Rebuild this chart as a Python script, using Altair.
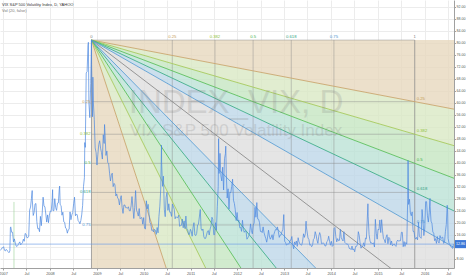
import altair as alt
import pandas as pd

TITLE = "VIX S&P 500 Volatility Index, D, YAHOO"
SUBTITLE = "Vol (20, false)"
WATERMARK1 = "INDEX_VIX, D"
WATERMARK2 = "VIX S&P 500 Volatility Index"

# ---- weekly closes (Fridays) ----
vix_2006 = [10.7, 11.0, 11.5, 11.6]  # from 2006-12-08
vix_2007 = [12.0, 10.8, 10.6, 11.1,
            10.7, 10.4, 10.0, 10.6,
            18.6, 16.8, 16.8, 13.6, 14.6,
            13.2, 12.2, 12.1, 12.5,
            13.1, 13.6, 12.6, 13.0,
            13.3, 14.5, 13.8, 16.4, 16.2,
            15.0, 15.0, 15.5, 24.2,
            25.2, 28.0, 27.5, 22.4, 23.4,
            26.2, 26.4, 20.4, 18.0,
            18.1, 17.0, 22.1, 19.0,
            23.2, 28.5, 25.5, 25.3, 22.9,
            20.2, 22.6, 20.0, 22.5]
vix_2008 = [23.9, 23.7, 27.2, 24.0,
            24.0, 28.0, 25.0, 24.1, 26.5,
            26.6, 31.2, 26.0, 25.7,
            22.5, 23.5, 20.3, 20.1,
            18.2, 18.0, 16.5, 17.6, 17.8,
            23.6, 21.0, 22.6, 23.4,
            26.3, 28.5, 22.3, 22.9,
            22.6, 20.7, 20.3, 19.6, 20.7,
            22.6, 25.7, 32.1, 35.0,
            45.1, 69.9, 70.3, 79.1, 59.9,
            55.0, 66.3, 72.7, 55.3,
            59.9, 54.3, 44.9, 43.4]
vix_2009 = [39.2, 42.8, 46.1, 47.3, 44.8,
            43.4, 41.2, 49.3, 46.4,
            49.3, 42.4, 43.9, 40.0,
            39.7, 36.5, 33.9, 35.8,
            36.5, 32.0, 33.1, 32.6, 28.9,
            29.6, 28.2, 27.9, 25.9,
            27.9, 29.0, 25.0, 23.1, 25.9,
            25.9, 25.0, 25.0, 24.8,
            25.3, 24.0, 23.9, 25.6,
            28.7, 25.0, 21.4, 25.0, 30.7,
            24.2, 23.4, 22.2, 24.7,
            21.3, 21.6, 21.7, 19.5]
vix_2010 = [21.7, 18.1, 17.9, 27.3, 24.6,
            26.1, 22.7, 20.0, 19.5,
            17.4, 17.6, 16.9, 17.8,
            17.5, 16.1, 18.4, 16.6, 22.1,
            25.5, 31.2, 40.1, 32.1,
            35.5, 24.3, 22.0, 28.5,
            30.1, 24.1, 26.3, 23.5, 23.5,
            22.1, 26.2, 25.5, 24.5,
            21.3, 22.0, 21.7, 21.7,
            22.5, 18.8, 19.0, 19.1, 21.2,
            18.3, 20.6, 18.0, 22.2,
            18.0, 17.6, 16.1, 16.1, 17.8]
vix_2011 = [17.1, 15.5, 18.5, 20.0,
            15.9, 15.7, 16.4, 19.2,
            19.5, 21.9, 24.4, 17.9,
            17.4, 17.9, 15.3, 14.7, 14.8,
            15.9, 17.1, 17.4, 15.9,
            17.9, 18.9, 21.8, 21.1,
            16.0, 16.0, 20.0, 17.5, 25.3,
            32.0, 36.4, 43.1, 35.6,
            33.9, 38.5, 30.9, 41.3, 43.0,
            36.3, 28.2, 31.3, 24.5,
            30.2, 30.0, 32.0, 34.5,
            27.5, 26.4, 24.3, 20.7, 23.4]
vix_2012 = [20.6, 20.9, 18.3, 18.5,
            17.1, 20.8, 17.8, 16.8,
            17.3, 17.1, 14.5, 15.0, 15.5,
            16.7, 19.6, 17.4, 16.3,
            19.2, 19.9, 25.1, 21.8,
            26.7, 21.2, 21.1, 20.0, 17.1,
            17.1, 16.7, 18.6, 16.7,
            15.6, 14.7, 13.5, 15.2, 17.5,
            15.6, 14.5, 15.1, 16.0,
            14.3, 16.1, 17.1, 17.8,
            17.6, 18.6, 16.9, 15.1, 15.9,
            15.9, 17.0, 17.8, 22.7]
vix_2013 = [13.8, 13.4, 12.5, 12.9,
            12.9, 13.0, 14.1, 14.2,
            15.4, 12.6, 11.3, 13.6, 12.7,
            13.9, 12.1, 15.0, 13.6,
            12.9, 12.6, 12.5, 13.8, 16.3,
            15.1, 16.3, 18.9, 16.9,
            14.9, 14.4, 12.5, 12.7,
            12.0, 12.4, 14.4, 14.8, 17.0,
            15.9, 14.2, 13.1, 15.5,
            16.7, 15.7, 13.0, 13.1,
            13.3, 12.9, 12.2, 12.3, 13.7,
            14.0, 15.5, 13.8, 12.5]
vix_2014 = [13.8, 12.1, 12.4, 18.1, 18.4,
            15.3, 13.6, 14.7, 14.0,
            14.1, 17.8, 15.0, 14.4,
            13.9, 17.0, 13.4, 13.1,
            12.9, 12.9, 12.4, 11.4, 11.4,
            11.0, 12.2, 10.9, 11.3,
            10.3, 12.1, 12.1, 12.7,
            17.0, 15.8, 13.2, 11.5, 12.0,
            12.1, 13.3, 12.1, 14.9,
            14.6, 21.2, 22.0, 16.1, 14.0,
            13.1, 13.3, 12.9, 13.3,
            11.9, 21.1, 16.5, 14.5]
vix_2015 = [17.8, 17.6, 20.9, 16.7, 21.0,
            17.3, 14.7, 14.3, 13.3,
            15.2, 16.0, 13.0, 15.1,
            14.7, 12.6, 13.9, 12.3,
            12.7, 12.9, 12.4, 12.1, 13.8,
            14.2, 13.8, 14.0, 14.0,
            16.8, 16.8, 12.0, 13.7, 12.1,
            13.4, 12.8, 28.0, 26.1,
            27.8, 23.2, 22.3, 23.6,
            17.1, 17.1, 15.1, 14.5, 15.1,
            14.3, 20.1, 15.5, 15.1,
            14.8, 24.4, 20.7, 15.7]
vix_2016 = [18.2, 27.0, 27.0, 22.3, 20.2,
            23.4, 25.4, 20.5, 19.8,
            16.9, 16.5, 14.0, 14.7,
            13.1, 15.4, 13.6, 13.2, 15.7,
            14.7, 15.0, 15.2, 13.1,
            13.5, 17.0, 19.4, 25.8,
            14.8, 13.2, 12.7, 12.0, 11.9,
            11.4, 12.86]
# daily spikes
spike_dates = ["2007-02-27", "2007-08-16", "2008-01-22", "2008-03-17", "2008-09-29",
               "2008-10-24", "2008-10-27", "2008-11-20", "2008-12-01", "2009-03-02",
               "2010-02-04", "2010-05-20", "2011-08-08", "2011-10-03", "2011-11-25",
               "2012-06-01", "2013-06-20", "2014-10-15", "2015-08-24", "2016-02-11",
               "2016-06-27"]
spike_values = [18.3, 30.7, 31.0, 32.2, 46.7,
                79.1, 80.1, 80.86, 68.5, 52.7,
                26.1, 45.8, 48.0, 45.5, 34.5,
                26.7, 20.5, 26.3, 40.7, 28.1,
                23.9]
last_price = 12.86

# volume pane remnants (Vol 20)
vol_date, vol_top = "2007-03-27", 26.9

# ---- Fib speed resistance fan anchors ----
fan_t0, fan_p0 = "2008-11-20", 80.86
fan_t1, fan_p1 = "2015-10-15", -1.3
fan_levels = [0.25, 0.382, 0.5, 0.618, 0.75, 1.0]
fan_names = ["0.25", "0.382", "0.5", "0.618", "0.75", "1"]
fan_line_colors = ["#c9a66e", "#a6c95c", "#5cbf5c", "#3fae8a", "#5d9fd4", "#8c8c8c"]
fan_text_colors = ["#c59c58", "#8fbf3a", "#44b04a", "#2f9f83", "#4a90cf", "#808080"]
fan_fill_colors = ["#e7d8be", "#dae8c4", "#c5e6c2", "#bbe2d6", "#bed7e8", "#dfdfdf"]

x_start, x_end = "2006-12-08", "2016-08-16"
y_min, y_max = 4.9, 94.2
y_ticks = list(range(8, 96, 4))
x_tick_dates = [f"{y}-{m}-01" for y in range(2007, 2017) for m in ("01", "07")]


def ms(d):
    return int(pd.Timestamp(d).value // 10**6)


# ---- build tables ----
year_lists = {2006: vix_2006, 2007: vix_2007, 2008: vix_2008, 2009: vix_2009, 2010: vix_2010,
              2011: vix_2011, 2012: vix_2012, 2013: vix_2013, 2014: vix_2014, 2015: vix_2015,
              2016: vix_2016}
rows = []
for yr, vals in year_lists.items():
    start = "2006-12-08" if yr == 2006 else f"{yr}-01-01"
    end = "2016-08-12" if yr == 2016 else f"{yr}-12-31"
    dates = pd.date_range(start, end, freq="W-FRI")
    for d, v in zip(dates, vals):
        rows.append({"t": ms(d), "v": v})
for d, v in zip(spike_dates, spike_values):
    rows.append({"t": ms(d), "v": v})
vix = pd.DataFrame(rows).sort_values("t").reset_index(drop=True)

T0, T1 = ms(fan_t0), ms(fan_t1)
DT = T1 - T0
DP = fan_p1 - fan_p0
XS, XE = ms(x_start), ms(x_end)


def price_ray(L):
    return lambda t: fan_p0 + (t - T0) / DT * L * DP


def time_ray(L):
    return lambda t: fan_p0 + (t - T0) / (L * DT) * DP


top = lambda t: fan_p0
bottom = lambda t: -3000.0
P = [price_ray(L) for L in fan_levels[:5]]
TR = [time_ray(L) for L in fan_levels[:5]]
regions = [
    (top, P[0], fan_fill_colors[0]),
    (P[0], P[1], fan_fill_colors[1]),
    (P[1], P[2], fan_fill_colors[2]),
    (P[2], P[3], fan_fill_colors[3]),
    (P[3], P[4], fan_fill_colors[4]),
    (P[4], TR[4], fan_fill_colors[5]),
    (TR[4], TR[3], fan_fill_colors[4]),
    (TR[3], TR[2], fan_fill_colors[3]),
    (TR[2], TR[1], fan_fill_colors[2]),
    (TR[1], TR[0], fan_fill_colors[1]),
    (TR[0], bottom, fan_fill_colors[0]),
]
fill_rows = []
for i, (u, lo, c) in enumerate(regions):
    for t in (T0, XE):
        fill_rows.append({"r": f"r{i:02d}", "t": t, "v": u(t), "v2": lo(t), "c": c})
fills_df = pd.DataFrame(fill_rows)

ray_rows = []
for L, col in zip(fan_levels, fan_line_colors):
    f = price_ray(L)
    for t in (T0, XE):
        ray_rows.append({"id": f"p{L}", "t": t, "v": f(t), "c": col})
for L, col in zip(fan_levels[:5], fan_line_colors[:5]):
    f = time_ray(L)
    for t in (T0, XE):
        ray_rows.append({"id": f"t{L}", "t": t, "v": f(t), "c": col})
rays_df = pd.DataFrame(ray_rows)

all_levels = [0.0] + fan_levels
vr_df = pd.DataFrame([{"t": T0 + L * DT, "v": fan_p0, "v2": fan_p1,
                       "o": 0.75 if L in (0.0, 1.0) else 0.45} for L in all_levels])
hr_df = pd.DataFrame([{"t": T0, "t2": T1, "v": fan_p0 + L * DP} for L in [0.0] + fan_levels[:5]])

top_lab = pd.DataFrame([{"t": T0 + L * DT, "v": fan_p0, "s": s, "c": c}
                        for L, s, c in zip(all_levels, ["0"] + fan_names, ["#808080"] + fan_text_colors)])
side_lab_left = pd.DataFrame([{"t": T0, "v": fan_p0 + L * DP, "s": s, "c": c}
                              for L, s, c in zip(fan_levels[:5], fan_names[:5], fan_text_colors[:5])])
side_lab_right = pd.DataFrame([{"t": T1, "v": fan_p0 + L * DP, "s": s, "c": c}
                               for L, s, c in zip(fan_levels[:5], fan_names[:5], fan_text_colors[:5])])

FONT = "Liberation Sans"
xscale = alt.Scale(type="utc", domain=[XS, XE], nice=False)
yscale = alt.Scale(domain=[y_min, y_max], nice=False, zero=False)
xaxis = alt.Axis(values=[ms(d) for d in x_tick_dates], title=None, grid=True,
                 labelExpr="utcmonth(datum.value) == 0 ? utcFormat(datum.value, '%Y') : 'Jul'",
                 labelOverlap=False, labelFlush=False, labelPadding=1, labelFontSize=3.8)
yaxis = alt.Axis(values=y_ticks, orient="right", title=None, grid=True,
                 labelExpr="datum.value == 12 ? '' : format(datum.value, '.2f')",
                 labelOverlap=False, labelPadding=0.5, labelFlush=False, tickSize=1.5,
                 labelFontSize=3.6)


def X(f="t"):
    return alt.X(f"{f}:T", scale=xscale, axis=xaxis)


def Y(f="v"):
    return alt.Y(f"{f}:Q", scale=yscale, axis=yaxis)


fills = alt.Chart(fills_df).mark_area(clip=True, fillOpacity=0.8).encode(
    x=X(), y=Y(), y2="v2:Q",
    color=alt.Color("r:N", scale=alt.Scale(domain=[f"r{i:02d}" for i in range(len(regions))],
                                           range=[r[2] for r in regions]), legend=None))
vrules = alt.Chart(vr_df).mark_rule(clip=True, color="#8a8a8a", strokeWidth=1).encode(
    x=X(), y=Y(), y2="v2:Q", opacity=alt.Opacity("o:Q", scale=None))
hrules = alt.Chart(hr_df).mark_rule(clip=True, color="#8a8a8a", strokeWidth=1, opacity=0.45).encode(
    x=X(), x2="t2:T", y=Y())
rays = alt.Chart(rays_df).mark_line(clip=True, strokeWidth=0.9).encode(
    x=X(), y=Y(), detail="id:N", color=alt.Color("c:N", scale=None))

vol_df = pd.DataFrame({"t": [ms(vol_date)], "v": [vol_top], "v2": [y_min]})
vol_rule = alt.Chart(vol_df).mark_rule(color="#9fd49a", strokeWidth=0.8, opacity=0.8).encode(
    x=X(), y=Y(), y2="v2:Q")

wm1 = alt.Chart(pd.DataFrame({"s": [WATERMARK1]})).mark_text(
    font=FONT, fontSize=33, color="#7a7a7a", opacity=0.2, align="center", baseline="alphabetic"
).encode(x=alt.value(236), y=alt.value(113), text="s:N")
wm2 = alt.Chart(pd.DataFrame({"s": [WATERMARK2]})).mark_text(
    font=FONT, fontSize=17, color="#7a7a7a", opacity=0.2, align="center", baseline="alphabetic"
).encode(x=alt.value(236), y=alt.value(136), text="s:N")

vix_line = alt.Chart(vix).mark_line(color="#4a86e0", strokeWidth=0.7).encode(x=X(), y=Y())

last_df = pd.DataFrame({"v": [last_price], "hi": [last_price + 1.35], "lo": [last_price - 1.35],
                        "s": [f"{last_price:.2f}"]})
last_rule = alt.Chart(last_df).mark_rule(color="#6a9be6", strokeWidth=0.8, opacity=0.8).encode(y=Y())
last_box = alt.Chart(last_df).mark_rect(color="#3c78d8").encode(
    x=alt.value(455), x2=alt.value(467), y=Y("hi"), y2="lo:Q")
last_txt = alt.Chart(last_df).mark_text(font=FONT, fontSize=3.6, color="white", align="left",
                                        baseline="middle").encode(x=alt.value(456), y=Y(), text="s:N")

top_txt = alt.Chart(top_lab).mark_text(font=FONT, fontSize=4.2, align="center", baseline="alphabetic",
                                       dy=-2).encode(x=X(), y=Y(), text="s:N",
                                                     color=alt.Color("c:N", scale=None))
left_txt = alt.Chart(side_lab_left).mark_text(font=FONT, fontSize=4.2, align="right", baseline="middle",
                                              dx=-1).encode(x=X(), y=Y(), text="s:N",
                                                            color=alt.Color("c:N", scale=None))
right_txt = alt.Chart(side_lab_right).mark_text(font=FONT, fontSize=4.2, align="left", baseline="bottom",
                                                dx=2, dy=-1).encode(x=X(), y=Y(), text="s:N",
                                                                    color=alt.Color("c:N", scale=None))

t1 = alt.Chart(pd.DataFrame({"s": [TITLE]})).mark_text(
    font=FONT, fontSize=4, color="#333333", align="left", baseline="middle"
).encode(x=alt.value(2), y=alt.value(5), text="s:N")
t2 = alt.Chart(pd.DataFrame({"s": [SUBTITLE]})).mark_text(
    font=FONT, fontSize=4, color="#777777", align="left", baseline="middle"
).encode(x=alt.value(2), y=alt.value(11), text="s:N")

chart = alt.layer(fills, hrules, vrules, rays, vol_rule, wm1, wm2, vix_line, last_rule, last_box,
                  last_txt, top_txt, left_txt, right_txt, t1, t2).properties(
    width=454, height=268,
    autosize=alt.AutoSizeParams(type="none"),
    padding={"left": 0, "top": 0, "right": 12, "bottom": 7},
    background="white",
).configure_view(stroke=None).configure_axis(
    labelFont=FONT, labelColor="#555555",
    gridColor="#ececec", gridWidth=1, domainColor="#a0a0a0", tickColor="#a0a0a0", tickSize=2,
)

chart.save("out.html", embed_options={"renderer": "svg", "actions": False})
